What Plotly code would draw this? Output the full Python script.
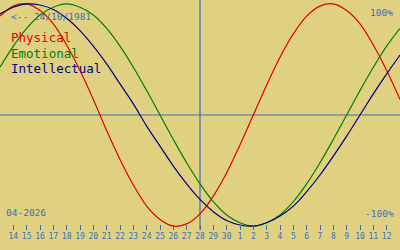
import plotly.graph_objects as go

# Day labels along the x axis (14 April .. 12 May)
days = [14, 15, 16, 17, 18, 19, 20, 21, 22, 23, 24, 25, 26, 27, 28, 29, 30,
        1, 2, 3, 4, 5, 6, 7, 8, 9, 10, 11, 12]
# Sample positions: one day before the first tick to one day after the last
day_index = list(range(-1, 30))

# Values in percent at each day
physical = [89, 98, 100, 94, 82, 63, 40, 14, -14, -40, -63, -82, -94, -100, -98, -89,
            -73, -52, -27, 0, 27, 52, 73, 89, 98, 100, 94, 82, 63, 40, 14]
emotional = [43, 62, 78, 90, 97, 100, 97, 90, 78, 62, 43, 22, 0, -22, -43, -62,
             -78, -90, -97, -100, -97, -90, -78, -62, -43, -22, 0, 22, 43, 62, 78]
intellectual = [91, 97, 100, 99, 95, 87, 76, 62, 46, 28, 10, -10, -28, -46, -62, -76,
                -87, -95, -99, -100, -97, -91, -82, -69, -54, -37, -19, 0, 19, 37, 54]

today_index = 14          # 28th
birth_label = "<-- 24/10/1981"
month_label = "04-2026"

BG = "#e0d180"
BLUE = "#3a6fbf"
FONT = "DejaVu Sans Mono"

W, H, B = 400, 250, 20
PH = H - B

def py(y):
    return 1 - y / PH

fig = go.Figure()
for name, vals, col in [("Physical", physical, "#e00000"),
                        ("Emotional", emotional, "#008000"),
                        ("Intellectual", intellectual, "#000080")]:
    fig.add_trace(go.Scatter(x=day_index, y=vals, mode="lines", name=name,
                             line=dict(color=col, width=1.2, shape="spline"),
                             hoverinfo="skip"))

fig.add_shape(type="line", xref="paper", yref="y", x0=0, x1=1, y0=0, y1=0,
              line=dict(color=BLUE, width=1), layer="below")
fig.add_shape(type="line", xref="x", yref="paper", x0=today_index, x1=today_index,
              y0=0, y1=1, line=dict(color=BLUE, width=1.2), layer="below")

ann = []
def text(t, x, y, size, color, xanchor="left"):
    ann.append(dict(text=t, xref="paper", yref="paper", x=x / W, y=py(y),
                    xanchor=xanchor, yanchor="middle", showarrow=False,
                    font=dict(family=FONT, size=size, color=color)))

text(birth_label, 9, 16.7, 9.5, BLUE)
text("Physical", 9, 38, 12.5, "#e00000")
text("Emotional", 9, 53, 12.5, "#008000")
text("Intellectual", 9, 68, 12.5, "#000080")
text("100%", 395, 12.2, 9.5, BLUE, "right")
text("-100%", 396, 213, 9.5, BLUE, "right")
text(month_label, 4, 212, 9.5, BLUE)

fig.update_layout(
    width=W, height=H, margin=dict(l=0, r=0, t=0, b=B, pad=0),
    paper_bgcolor=BG, plot_bgcolor=BG, showlegend=False,
    annotations=ann,
    xaxis=dict(range=[-1, 29], tickvals=list(range(len(days))),
               ticktext=[str(d) for d in days], ticks="inside", ticklen=5,
               tickwidth=1, tickcolor=BLUE, showgrid=False, zeroline=False,
               showline=False, tickfont=dict(family=FONT, size=8, color=BLUE),
               fixedrange=True),
    yaxis=dict(range=[-103.5, 103.5], visible=False, showgrid=False,
               zeroline=False, fixedrange=True),
)

fig.write_html("out.html", config={"displayModeBar": False})
